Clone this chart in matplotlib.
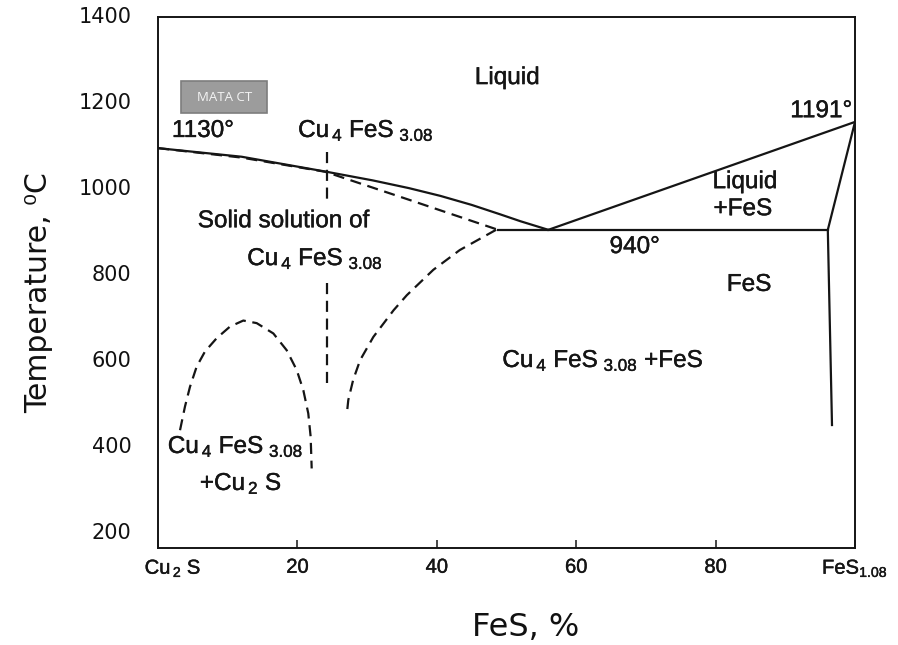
import matplotlib
matplotlib.use("Agg")
import matplotlib.pyplot as plt
import matplotlib.transforms as mtransforms
import matplotlib.patheffects as pe
from matplotlib.patches import Rectangle

plt.rcParams['font.family'] = ['Liberation Sans', 'DejaVu Sans']
plt.rcParams['mathtext.fontset'] = 'custom'
plt.rcParams['mathtext.rm'] = 'Liberation Sans'
plt.rcParams['mathtext.default'] = 'regular'

INK = '#151515'

# --- phase boundaries, x in % FeS, T in deg C ---
liq_left_x = [0, 12, 24.2, 30.8, 36, 40.5, 45, 49.1, 52, 56]
liq_left_t = [1130, 1110, 1075, 1055, 1037, 1019, 998, 976, 960, 940]

sol_left_x = [0, 12, 24, 36, 48.8]
sol_left_t = [1130, 1108, 1075, 1010, 940]

liq_right_x = [56, 100]
liq_right_t = [940, 1191]

eutectic_x = [48.8, 96.1]
eutectic_t = [940, 940]

fes_x = [100, 96.1, 96.7]
fes_t = [1191, 940, 486]

comp_x = 24.2
comp_upper_t = [1122, 1008]
comp_lower_t = [816, 572]

dome_x = [3.16, 3.87, 4.59, 5.55, 6.74, 8.42, 10.33, 12.24, 14.16, 16.55,
          18.46, 19.9, 20.85, 21.56, 21.9, 22.05]
dome_t = [474, 529, 575, 622, 657, 688, 715, 729, 723, 699,
          660, 614, 567, 513, 459, 385]

solv_x = [48.5, 43.3, 39.5, 35.7, 33.8, 30.9, 29.0, 28.0, 27.3, 27.1]
solv_t = [940, 893, 847, 788, 753, 691, 637, 591, 544, 513]

xtick_vals = [0, 20, 40, 60, 80, 100]
xtick_labels = [r'Cu$_{\,2}$ S', '20', '40', '60', '80', r'FeS$_{1.08}$']
ytick_vals = [200, 400, 600, 800, 1000, 1200, 1400]
ytick_marks = [400, 600, 800, 1000, 1200]

CUFES = r'Cu$_{\,4}$ FeS$_{\ 3.08}$'

fig = plt.figure(figsize=(8.98, 6.45), dpi=100)
ax = fig.add_axes([158/898, 97/645, 697/898, 531/645])

solid = dict(color=INK, lw=1.6, solid_joinstyle='miter')
dashed = dict(color=INK, lw=1.6, ls=(0, (5, 3)))

ax.plot(liq_left_x, liq_left_t, **solid)
ax.plot(liq_right_x, liq_right_t, **solid)
ax.plot(eutectic_x, eutectic_t, **solid)
ax.plot(fes_x, fes_t, **solid)

ax.plot(sol_left_x, sol_left_t, **dashed)
ax.plot([comp_x, comp_x], comp_upper_t, **dashed)
ax.plot([comp_x, comp_x], comp_lower_t, **dashed)
ax.plot(dome_x, dome_t, **dashed)
ax.plot(solv_x, solv_t, **dashed)

ax.set_xlim(0, 100)
ax.set_ylim(200, 1435)

# slightly heavier print for the diagram lettering
thick = [pe.withStroke(linewidth=0.3, foreground=INK)]

# region labels
fs = 17.5
kw = dict(fontsize=fs, color=INK, path_effects=thick)
ax.text(50.1, 1293, 'Liquid', ha='center', va='center', **kw)
ax.text(2.0, 1156, '1130\u00b0', ha='left', va='baseline', **kw)
ax.text(20.1, 1156, CUFES, ha='left', va='baseline', **kw)
ax.text(5.7, 946, 'Solid solution of', ha='left', va='baseline', **kw)
ax.text(12.8, 858, CUFES, ha='left', va='baseline', **kw)
ax.text(99.6, 1202, '1191\u00b0', ha='right', va='baseline', **kw)
ax.text(84.2, 1037, 'Liquid', ha='center', va='baseline', **kw)
ax.text(83.9, 974, '+FeS', ha='center', va='baseline', **kw)
ax.text(68.4, 886, '940\u00b0', ha='center', va='baseline', **kw)
ax.text(84.8, 798, 'FeS', ha='center', va='baseline', **kw)
ax.text(49.4, 621, CUFES + ' +FeS', ha='left', va='baseline', **kw)
ax.text(1.4, 421, CUFES, ha='left', va='baseline', **kw)
ax.text(6.0, 335, r'+Cu$_{\,2}$ S', ha='left', va='baseline', **kw)

# grey stamp in the upper left corner
ax.add_patch(Rectangle((0.033, 0.819), 0.123, 0.060, transform=ax.transAxes,
                       fc='#9c9c9c', ec='#7d7d7d', lw=1.2, zorder=5))
ax.text(0.095, 0.849, 'MATA CT', transform=ax.transAxes, fontsize=9.5,
        family='Open Sans', color='#f4f4f4', ha='center', va='center', zorder=6)

# axes frame and ticks
for sp in ax.spines.values():
    sp.set_linewidth(1.4)
    sp.set_color(INK)

ax.set_xticks(xtick_vals, xtick_labels)
ax.tick_params(axis='x', which='major', direction='in', length=6, width=1.1,
               pad=7, labelsize=14.5, colors=INK)
for lab in ax.get_xticklabels():
    lab.set_path_effects(thick)
lab0 = ax.get_xticklabels()[0]
lab0.set_transform(lab0.get_transform() +
                   mtransforms.ScaledTranslation(0.15, 0, fig.dpi_scale_trans))

ax.set_yticks(ytick_vals, [str(v) for v in ytick_vals])
ax.tick_params(axis='y', which='major', length=0, pad=19, labelsize=15,
               labelcolor='#111111')
shift_up = mtransforms.ScaledTranslation(0, 0.17, fig.dpi_scale_trans)
for lab in ax.get_yticklabels():
    lab.set_transform(lab.get_transform() + shift_up)
    lab.set_fontfamily('DejaVu Sans')

ax.set_yticks(ytick_marks, minor=True)
ax.tick_params(axis='y', which='minor', direction='in', left=True, right=True,
               length=5.5, width=1.1, color=INK)

ax.set_xlabel('FeS, %', fontsize=23, family='DejaVu Sans', color='#111111')
ax.xaxis.set_label_coords(0.527, -0.121)
ax.set_ylabel('Temperature, \u2070C', fontsize=21.5, family='DejaVu Sans',
              color='#111111')
ax.yaxis.set_label_coords(-0.15, 0.48)

fig.savefig('out.png', dpi=100)
